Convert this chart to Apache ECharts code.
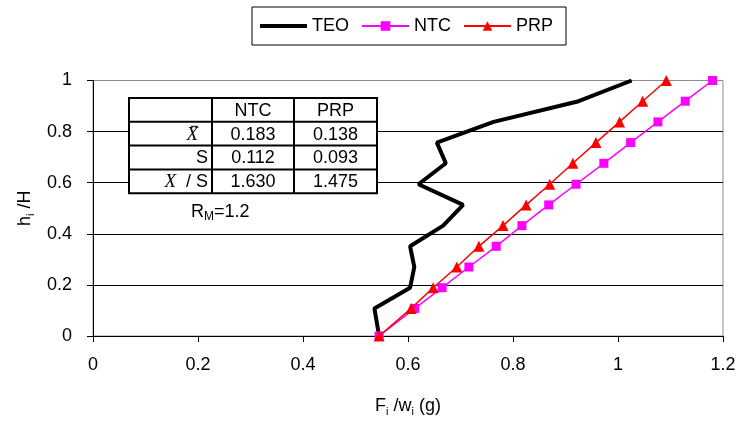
<!DOCTYPE html>
<html>
<head>
<meta charset="utf-8">
<script src="https://cdn.jsdelivr.net/npm/echarts@6/dist/echarts.min.js"></script>
<style>html,body{margin:0;padding:0;background:#fff}#c{width:740px;height:424px}</style>
</head>
<body>
<div id="c"></div>
<script>
// ---- data ----
const heights = [0, 0.108, 0.189, 0.270, 0.351, 0.432, 0.513, 0.594, 0.676, 0.757, 0.838, 0.919, 1.0];
const teoX = [0.545, 0.536, 0.604, 0.612, 0.604, 0.667, 0.705, 0.620, 0.672, 0.655, 0.763, 0.925, 1.026];
const ntcX = [0.545, 0.613, 0.665, 0.716, 0.768, 0.817, 0.868, 0.920, 0.973, 1.024, 1.076, 1.128, 1.180];
const prpX = [0.545, 0.606, 0.648, 0.693, 0.735, 0.781, 0.825, 0.870, 0.914, 0.958, 1.003, 1.047, 1.092];
const seriesNames = ['TEO', 'NTC', 'PRP'];
const tableHeader = ['', 'NTC', 'PRP'];
const tableRowLabels = ['{i|X}{n|  }', '{n|S}', '{i|X}{n|  / S}'];
const ntcStats = [0.183, 0.112, 1.630];
const prpStats = [0.138, 0.093, 1.475];
const rmLabel = '{n|R}{s|M}{n|=1.2}';

const FONT = 'Liberation Sans, Arial, sans-serif';
const pairs = (xs) => xs.map((x, i) => [x, heights[i]]);

// ---- table graphic ----
const tX = 129, tY = 98, colW = [83, 82, 83], rowH = 23.8;
const tW = colW[0] + colW[1] + colW[2], tH = rowH * 4;
const g = [];
g.push({type: 'rect', shape: {x: tX, y: tY, width: tW, height: tH},
  style: {fill: '#fff', stroke: '#000', lineWidth: 2}, z: 10});
for (let r = 1; r < 4; r++) {
  g.push({type: 'line', shape: {x1: tX, y1: tY + r * rowH, x2: tX + tW, y2: tY + r * rowH},
    style: {stroke: '#000', lineWidth: 2}, z: 11});
}
let cx = tX;
for (let c = 0; c < 2; c++) {
  cx += colW[c];
  g.push({type: 'line', shape: {x1: cx, y1: tY, x2: cx, y2: tY + tH},
    style: {stroke: '#000', lineWidth: 2}, z: 11});
}
const colCenter = (c) => tX + colW.slice(0, c).reduce((a, b) => a + b, 0) + colW[c] / 2;
const richT = {
  n: {fontSize: 18, fontFamily: FONT, fill: '#000'},
  i: {fontSize: 19, fontFamily: 'Liberation Serif, serif', fontStyle: 'italic', fill: '#000'}
};
for (let c = 1; c < 3; c++) {
  g.push({type: 'text', x: colCenter(c), y: tY + rowH / 2 + 1, z: 12,
    style: {text: tableHeader[c], fontSize: 18, fontFamily: FONT, fill: '#000', align: 'center', verticalAlign: 'middle'}});
}
for (let r = 0; r < 3; r++) {
  const yc = tY + (r + 1) * rowH + rowH / 2 + 1;
  g.push({type: 'text', x: tX + colW[0] - 4, y: yc, z: 12,
    style: {text: tableRowLabels[r], rich: richT, align: 'right', verticalAlign: 'middle'}});
  g.push({type: 'text', x: colCenter(1), y: yc, z: 12,
    style: {text: ntcStats[r].toFixed(3), fontSize: 18, fontFamily: FONT, fill: '#000', align: 'center', verticalAlign: 'middle'}});
  g.push({type: 'text', x: colCenter(2), y: yc, z: 12,
    style: {text: prpStats[r].toFixed(3), fontSize: 18, fontFamily: FONT, fill: '#000', align: 'center', verticalAlign: 'middle'}});
}
// overbar for X in first stat row
g.push({type: 'line', shape: {x1: 191, y1: tY + rowH + 4.5, x2: 198, y2: tY + rowH + 4.5},
  style: {stroke: '#000', lineWidth: 1}, z: 12});
// R_M label
g.push({type: 'text', x: 191, y: 212, z: 12,
  style: {text: rmLabel, verticalAlign: 'middle', align: 'left',
    rich: {n: {fontSize: 18, fontFamily: FONT, fill: '#000', lineHeight: 22},
           s: {fontSize: 12, fontFamily: FONT, fill: '#000', lineHeight: 12, verticalAlign: 'bottom'}}}});

const axisNameRich = {
  a: {fontSize: 18, fontFamily: FONT, color: '#000', lineHeight: 22},
  s: {fontSize: 11, fontFamily: FONT, color: '#000', lineHeight: 11, verticalAlign: 'bottom'}
};

const chart = echarts.init(document.getElementById('c'), null, {renderer: 'canvas'});
chart.setOption({
  animation: false,
  backgroundColor: '#fff',
  textStyle: {fontFamily: FONT},
  grid: {left: 93, right: 17, top: 80.5, bottom: 88, show: true, borderColor: '#8c8c8c', borderWidth: 1, backgroundColor: 'transparent'},
  legend: {
    data: [
      {name: seriesNames[0], itemStyle: {opacity: 0, borderWidth: 0}, lineStyle: {width: 4, color: '#000'}},
      {name: seriesNames[1]},
      {name: seriesNames[2]}
    ],
    left: 252, top: 7,
    padding: [10, 13, 10, 6],
    itemGap: 12, itemWidth: 47, itemHeight: 12,
    borderColor: '#000', borderWidth: 1, borderRadius: 0,
    textStyle: {fontSize: 18, color: '#000', fontFamily: FONT}
  },
  xAxis: {
    type: 'value', min: 0, max: 1.2, interval: 0.2,
    name: '{a|F}{s|i}{a| /w}{s|i}{a| (g)}', nameLocation: 'middle', nameGap: 59,
    nameTextStyle: {rich: axisNameRich},
    axisLine: {show: true, onZero: false, lineStyle: {color: '#000', width: 1}},
    axisTick: {show: true, length: 6, lineStyle: {color: '#000'}},
    axisLabel: {fontSize: 18, color: '#000', margin: 20, fontFamily: FONT},
    splitLine: {show: false}
  },
  yAxis: {
    type: 'value', min: 0, max: 1, interval: 0.2,
    name: '{a|h}{s|i}{a| /H}', nameLocation: 'middle', nameGap: 56,
    nameTextStyle: {rich: axisNameRich},
    axisLine: {show: true, lineStyle: {color: '#000', width: 1}},
    axisTick: {show: true, length: 6, lineStyle: {color: '#000'}},
    axisLabel: {fontSize: 18, color: '#000', margin: 21, fontFamily: FONT},
    splitLine: {show: true, showMinLine: false, showMaxLine: false, lineStyle: {color: '#000', width: 1}}
  },
  series: [
    {name: seriesNames[0], type: 'line', data: pairs(teoX), symbol: 'none',
      lineStyle: {color: '#000', width: 4}, itemStyle: {color: '#000'}, z: 2},
    {name: seriesNames[1], type: 'line', data: pairs(ntcX), symbol: 'rect', symbolSize: 9,
      lineStyle: {color: '#FF00FF', width: 1.5}, itemStyle: {color: '#FF00FF'}, z: 3},
    {name: seriesNames[2], type: 'line', data: pairs(prpX), symbol: 'triangle', symbolSize: 11,
      lineStyle: {color: '#FF0000', width: 1.5}, itemStyle: {color: '#FF0000'}, z: 4}
  ],
  graphic: g
});
</script>
</body>
</html>
